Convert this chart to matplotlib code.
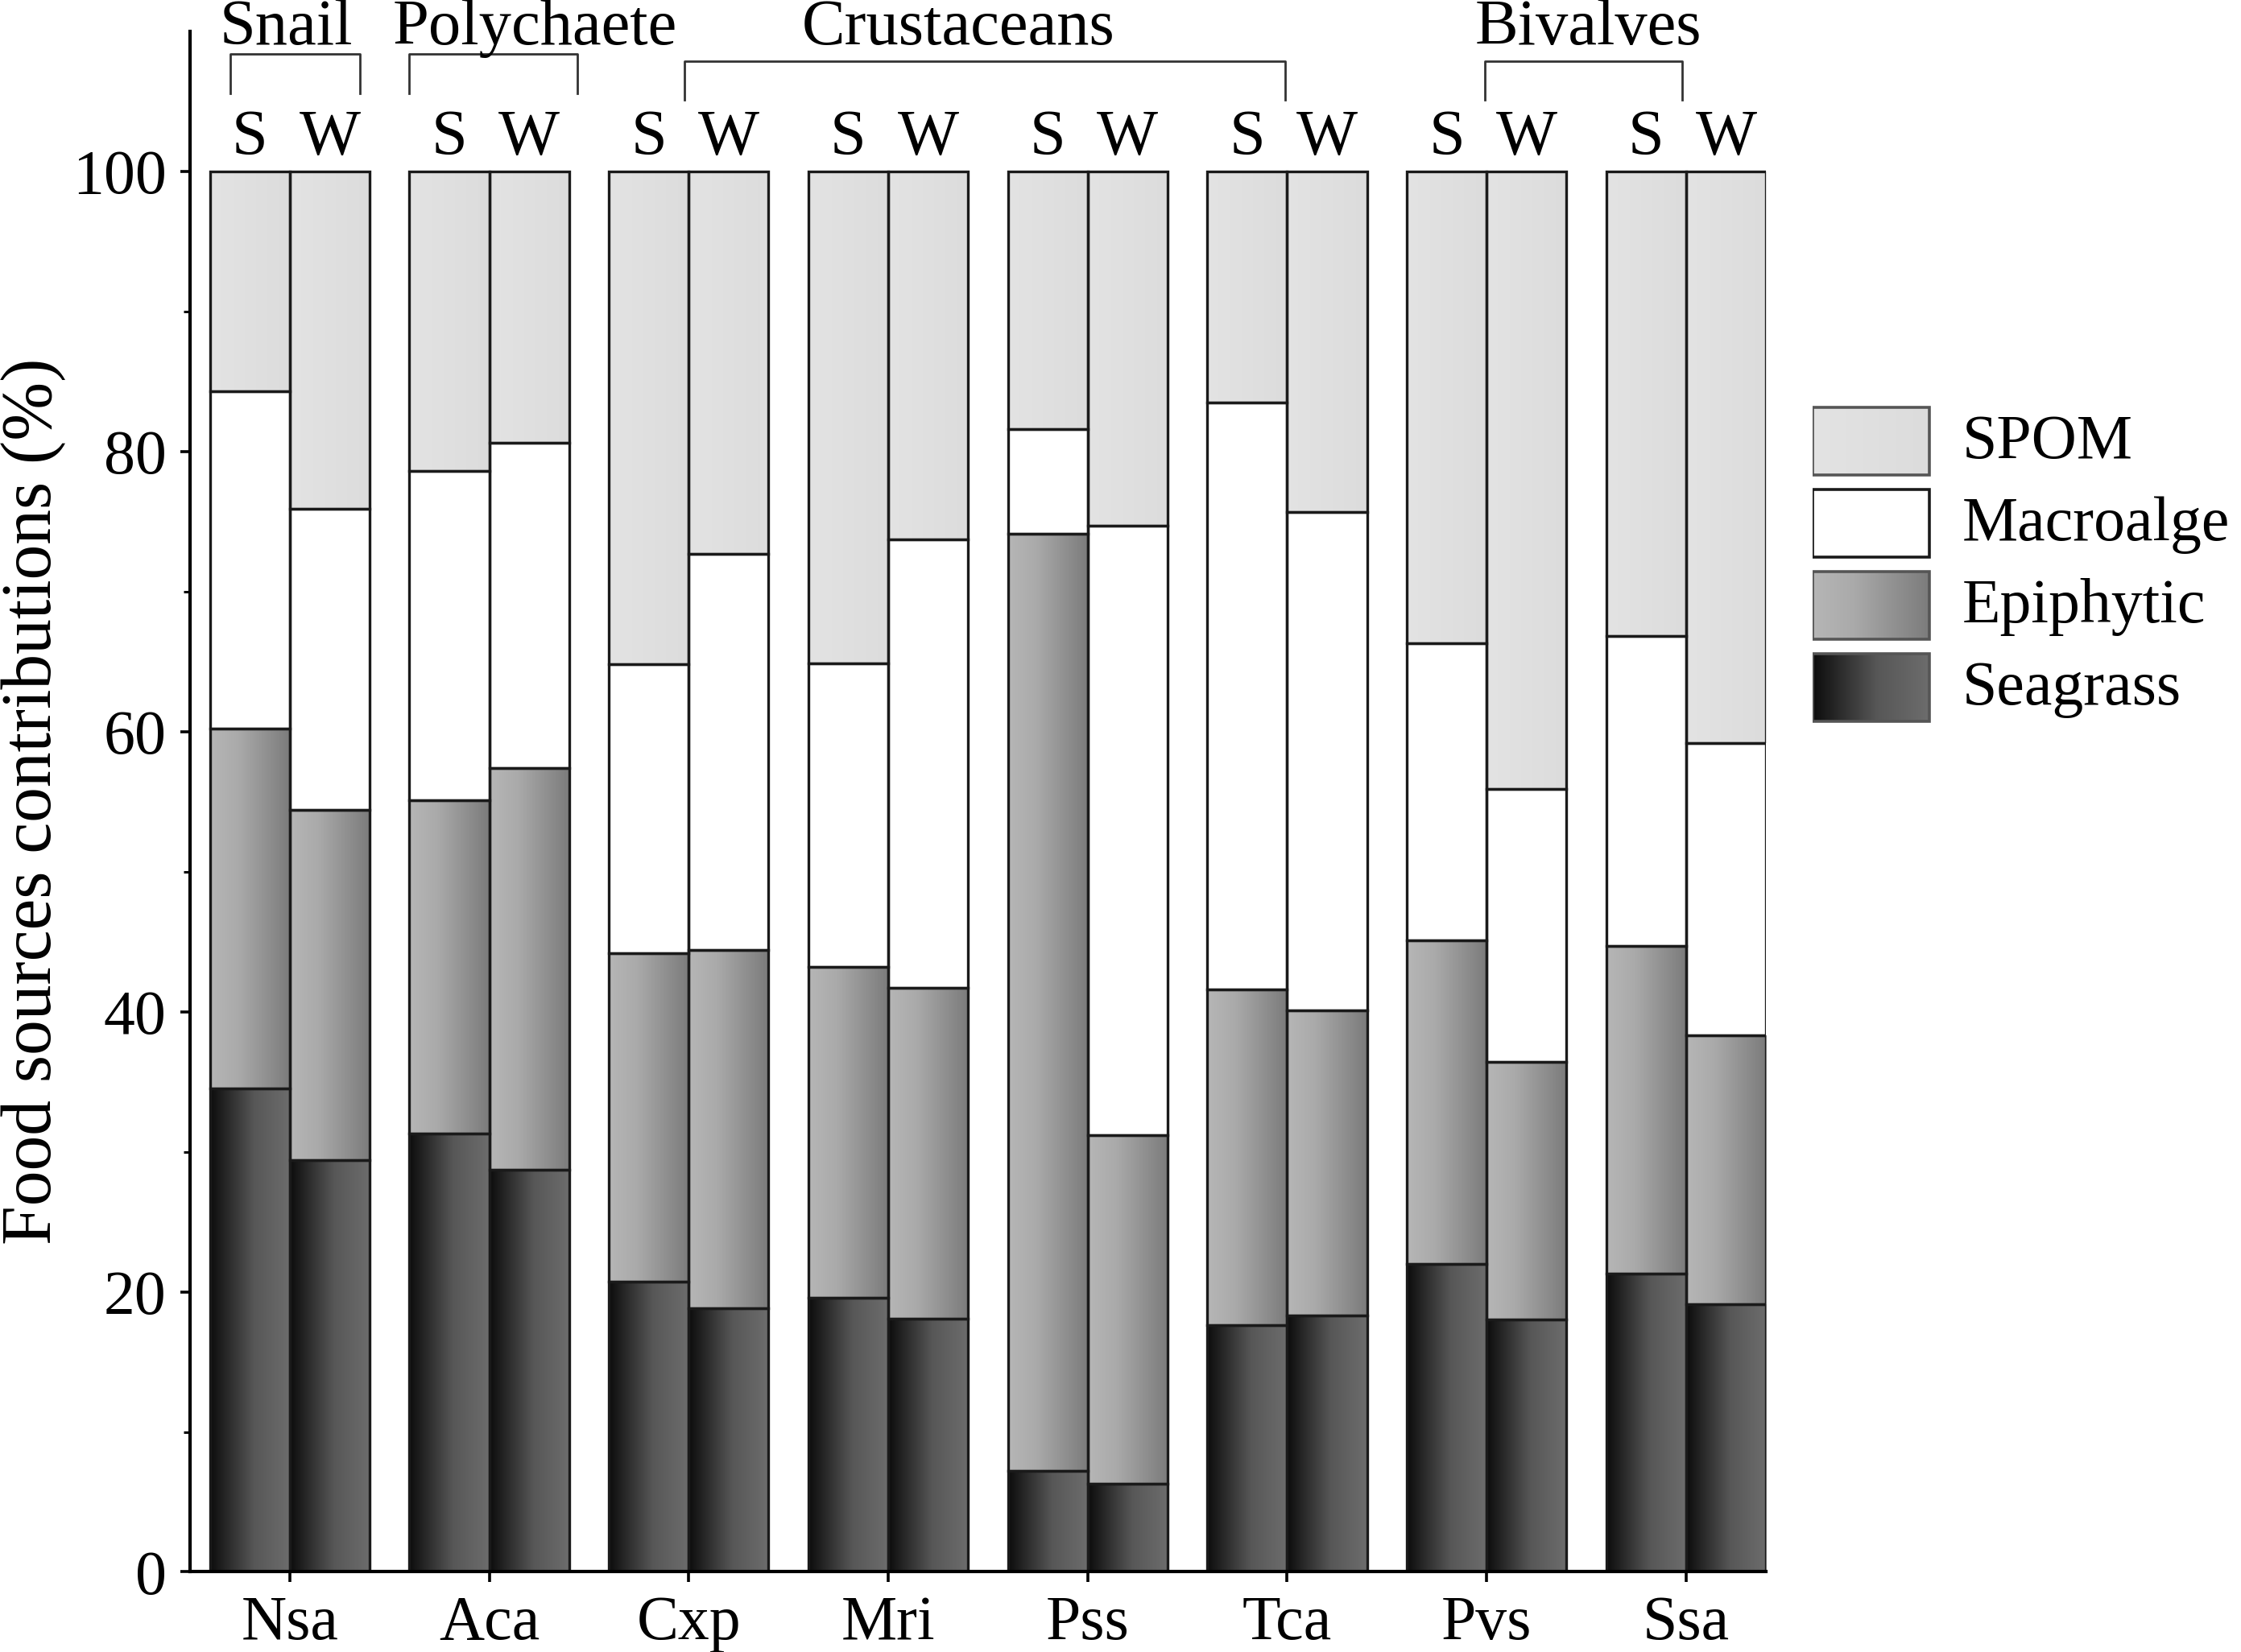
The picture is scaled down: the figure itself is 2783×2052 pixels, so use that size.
import numpy as np
import matplotlib
matplotlib.use('Agg')
import matplotlib.pyplot as plt
from matplotlib.colors import LinearSegmentedColormap
from matplotlib.patches import Rectangle

plt.rcParams['font.family'] = ['Liberation Serif', 'DejaVu Serif']

# species (pairs of bars: S = summer, W = winter)
species = ['Nsa', 'Aca', 'Cxp', 'Mri', 'Pss', 'Tca', 'Pvs', 'Ssa']
seasons = ['S', 'W']
sources = ['SPOM', 'Macroalge', 'Epiphytic', 'Seagrass']

# contributions (%), order: Nsa S, Nsa W, Aca S, ...
seagrass = [34.5, 29.4, 31.3, 28.7, 20.7, 18.8, 19.6, 18.1,
            7.2, 6.3, 17.6, 18.3, 22.0, 18.0, 21.3, 19.1]
epiphytic = [25.7, 25.0, 23.8, 28.7, 23.5, 25.6, 23.6, 23.6,
             66.9, 24.9, 24.0, 21.8, 23.1, 18.4, 23.4, 19.2]
macroalgae = [24.1, 21.5, 23.5, 23.2, 20.6, 28.3, 21.7, 32.0,
              7.5, 43.5, 41.9, 35.6, 21.2, 19.5, 22.1, 20.9]
spom = [100 - a - b - c for a, b, c in zip(seagrass, epiphytic, macroalgae)]

# taxonomic groups above the bars: (name, first species index, last species index)
groups = [('Snail', 0, 0), ('Polychaete', 1, 1), ('Crustaceans', 2, 5), ('Bivalves', 6, 7)]

cmaps = {
    'Seagrass': LinearSegmentedColormap.from_list('sg', [(0, '#0c0c0c'), (0.55, '#575757'), (1, '#6d6d6d')]),
    'Epiphytic': LinearSegmentedColormap.from_list('ep', [(0, '#b6b6b6'), (0.35, '#aaaaaa'), (1, '#7b7b7b')]),
    'Macroalge': LinearSegmentedColormap.from_list('ma', ['#ffffff', '#ffffff']),
    'SPOM': LinearSegmentedColormap.from_list('sp', [(0, '#e3e3e3'), (1, '#dcdcdc')]),
}
grad = np.linspace(0, 1, 256).reshape(1, -1)


def gradient_fill(ax, patches, cmap):
    for p in patches:
        x0, y0 = p.get_x(), p.get_y()
        w, h = p.get_width(), p.get_height()
        ax.imshow(grad, extent=[x0, x0 + w, y0, y0 + h], aspect='auto',
                  cmap=cmap, vmin=0, vmax=1, zorder=1, interpolation='bicubic')


fig = plt.figure(figsize=(13.915, 10.26), dpi=200)
ax = fig.add_axes([0.0848, 0.0485, 0.7032, 0.9325])

bw = 0.4
xc = np.arange(len(species))
xs = np.ravel(np.column_stack([xc - bw / 2, xc + bw / 2]))

layers = [('Seagrass', seagrass), ('Epiphytic', epiphytic), ('Macroalge', macroalgae), ('SPOM', spom)]
bottom = np.zeros(len(xs))
for name, vals in layers:
    vals = np.array(vals)
    bars = ax.bar(xs, vals, bw, bottom=bottom, facecolor='none',
                  edgecolor='#1a1a1a', linewidth=1.2, zorder=2)
    gradient_fill(ax, bars.patches, cmaps[name])
    bottom = bottom + vals

ax.set_xlim(-0.5, len(species) - 1 + bw)
ax.set_ylim(0, 110)

for s in ['top', 'right']:
    ax.spines[s].set_visible(False)
for s in ['left', 'bottom']:
    ax.spines[s].set_linewidth(1.5)

ax.set_yticks(np.arange(0, 101, 20))
ax.set_yticks(np.arange(10, 100, 20), minor=True)
ax.set_xticks(xc)
ax.set_xticklabels(species)
ax.tick_params(axis='both', which='major', direction='out', length=4.5, width=1.3,
               labelsize=28, pad=6)
ax.tick_params(axis='y', which='minor', direction='out', length=3, width=1.1)
ax.set_ylabel('Food sources contributions (%)', fontsize=31.5)
ax.yaxis.set_label_coords(-0.0787, 0.5)

# S / W labels above bars
for i, x in enumerate(xs):
    ax.text(x, 101.2, seasons[i % 2], ha='center', va='baseline', fontsize=29, clip_on=False)

# group brackets (left/right offsets from the group's species) and names
bracket_ends = {'Snail': (-0.30, 0.35), 'Polychaete': (-0.40, 0.44),
                'Crustaceans': (-0.02, -0.01), 'Bivalves': (-0.01, -0.02)}
name_shift = {'Snail': -0.02, 'Polychaete': 0.23, 'Crustaceans': -0.15, 'Bivalves': 0.01}
for name, i0, i1 in groups:
    dl, dr = bracket_ends[name]
    top, low = (108.4, 105.6) if i0 == i1 else (107.9, 105.1)
    left, right = i0 + dl, i1 + dr
    ax.plot([left, left, right, right], [low, top, top, low], color='#333333',
            linewidth=1.0, clip_on=False)
    ax.text((i0 + i1) / 2 + name_shift[name], 109.1, name, ha='center', va='baseline',
            fontsize=29, clip_on=False)

# legend with gradient swatches
lax = fig.add_axes([0.8088, 1 - 905 / 2052, 0.1912, 405 / 2052])
lax.axis('off')
for i, name in enumerate(sources):
    y0 = 6 + i * 102
    lax.imshow(grad, extent=[0, 145, y0 + 84, y0], aspect='auto', cmap=cmaps[name],
               vmin=0, vmax=1, interpolation='bicubic')
    lax.add_patch(Rectangle((0, y0), 145, 84, facecolor='none',
                            edgecolor='#1a1a1a' if name == 'Macroalge' else '#555555', linewidth=1.3))
    lax.text(186, y0 + 44, name, ha='left', va='center', fontsize=28)
lax.set_xlim(0, 532)
lax.set_ylim(405, 0)

fig.savefig('out.png', dpi=200)
